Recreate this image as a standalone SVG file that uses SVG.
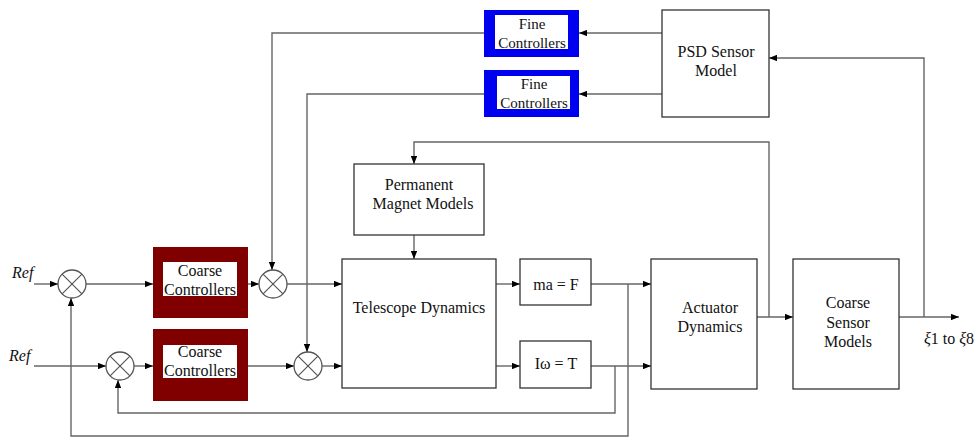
<svg xmlns="http://www.w3.org/2000/svg" width="976" height="439" viewBox="0 0 976 439">
<style>
.box{fill:#fff;stroke:#333;stroke-width:1.3}
.ln{fill:none;stroke:#666;stroke-width:1.4}
.arr{fill:none;stroke:#666;stroke-width:1.4;marker-end:url(#ah)}
.t{font-family:"Liberation Serif","Times New Roman",serif;font-size:16px;fill:#111;text-anchor:middle}
.ti{font-family:"Liberation Serif","Times New Roman",serif;font-size:16px;font-style:italic;fill:#111}
.sum{fill:#fff;stroke:#555;stroke-width:1.3}
.x{stroke:#555;stroke-width:1.2}
</style>
<defs>
<marker id="ah" viewBox="0 0 10 8" refX="10" refY="4" markerWidth="8" markerHeight="6.4" markerUnits="userSpaceOnUse" orient="auto">
<path d="M0,0 L10,4 L0,8 z" fill="#000"/>
</marker>
</defs>
<rect width="976" height="439" fill="#fff"/>

<g id="connectors">
<path class="arr" d="M34,284 H58"/>
<path class="arr" d="M86,284 H153"/>
<path class="arr" d="M248,284 H259"/>
<path class="arr" d="M287,284 H342"/>
<path class="arr" d="M484,33 H272 V270"/>
<path class="arr" d="M484,94 H307 V352"/>
<path class="arr" d="M34,366 H106"/>
<path class="arr" d="M134,366 H153"/>
<path class="arr" d="M248,366 H294"/>
<path class="arr" d="M322,366 H342"/>
<path class="arr" d="M496,284 H520"/>
<path class="arr" d="M496,366 H520"/>
<path class="arr" d="M591,284 H651"/>
<path class="arr" d="M591,366 H651"/>
<path class="arr" d="M628,284 V436 H71 V298"/>
<path class="arr" d="M615,366 V413 H118 V380"/>
<path class="arr" d="M414,235 V259"/>
<path class="arr" d="M757,317 H793"/>
<path class="arr" d="M769,317 V142 H414 V164"/>
<path class="arr" d="M899,317 H959"/>
<path class="arr" d="M924,317 V58 H769"/>
<path class="arr" d="M662,33 H579"/>
<path class="arr" d="M662,94 H579"/>
</g>

<g id="ref1"><text class="ti" x="12" y="278">Ref</text></g>
<g id="ref2"><text class="ti" x="9" y="361">Ref</text></g>

<g id="sum1"><circle class="sum" cx="72" cy="284" r="14"/><path class="x" d="M62.1,274.1 L81.9,293.9 M81.9,274.1 L62.1,293.9"/></g>
<g id="sum2"><circle class="sum" cx="273" cy="284" r="14"/><path class="x" d="M263.1,274.1 L282.9,293.9 M282.9,274.1 L263.1,293.9"/></g>
<g id="sum3"><circle class="sum" cx="120" cy="366" r="14"/><path class="x" d="M110.1,356.1 L129.9,375.9 M129.9,356.1 L110.1,375.9"/></g>
<g id="sum4"><circle class="sum" cx="308" cy="366" r="14"/><path class="x" d="M298.1,356.1 L317.9,375.9 M317.9,356.1 L298.1,375.9"/></g>

<g id="coarse1">
<rect x="153" y="247" width="95" height="71" fill="#800000"/>
<rect x="163" y="262" width="74" height="34" fill="#fff"/>
<text class="t" x="200" y="276">Coarse</text>
<text class="t" x="200" y="295">Controllers</text>
</g>
<g id="coarse2">
<rect x="153" y="329" width="95" height="72" fill="#800000"/>
<rect x="163" y="345" width="74" height="33" fill="#fff"/>
<text class="t" x="200" y="357">Coarse</text>
<text class="t" x="200" y="376">Controllers</text>
</g>

<g id="fine1">
<rect x="484" y="10" width="95" height="47" fill="#0000f0"/>
<rect x="495" y="15" width="73" height="34" fill="#fff"/>
<text class="t" x="532" y="29" style="font-size:15px">Fine</text>
<text class="t" x="532" y="48" style="font-size:15px">Controllers</text>
</g>
<g id="fine2">
<rect x="484" y="70" width="95" height="47" fill="#0000f0"/>
<rect x="497" y="76" width="73" height="33" fill="#fff"/>
<text class="t" x="534" y="89" style="font-size:15px">Fine</text>
<text class="t" x="534" y="108" style="font-size:15px">Controllers</text>
</g>

<g id="psd">
<rect class="box" x="662" y="10" width="107" height="107"/>
<text class="t" x="716" y="57">PSD Sensor</text>
<text class="t" x="716" y="76">Model</text>
</g>

<g id="pm">
<rect class="box" x="354" y="164" width="130" height="71"/>
<text class="t" x="419" y="190">Permanent</text>
<text class="t" x="423" y="209">Magnet Models</text>
</g>

<g id="telescope">
<rect class="box" x="342" y="259" width="154" height="129"/>
<text class="t" x="419" y="313">Telescope Dynamics</text>
</g>

<g id="maF">
<rect class="box" x="520" y="259" width="71" height="46"/>
<text class="t" x="556" y="290">ma = F</text>
</g>
<g id="IwT">
<rect class="box" x="520" y="341" width="71" height="47"/>
<text class="t" x="556" y="369">Iω = T</text>
</g>

<g id="actuator">
<rect class="box" x="651" y="259" width="106" height="130"/>
<text class="t" x="710" y="313">Actuator</text>
<text class="t" x="710" y="332">Dynamics</text>
</g>

<g id="coarseSensor">
<rect class="box" x="793" y="259" width="106" height="130"/>
<text class="t" x="848" y="308">Coarse</text>
<text class="t" x="848" y="328">Sensor</text>
<text class="t" x="848" y="347">Models</text>
</g>

<g id="output"><text class="t" x="949" y="344" style="text-anchor:middle"><tspan font-style="italic">ξ</tspan>1 to <tspan font-style="italic">ξ</tspan>8</text></g>
</svg>
